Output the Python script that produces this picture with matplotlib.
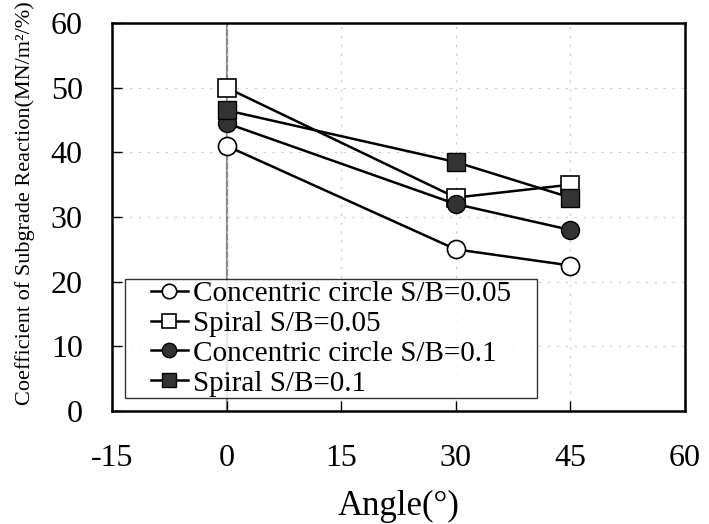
import matplotlib
matplotlib.use("Agg")
import matplotlib.pyplot as plt
from matplotlib.legend_handler import HandlerLine2D

# Values
angles = [0, 30, 45]
concentric_005 = [41, 25, 22.5]
spiral_005 = [50, 33, 35]
concentric_01 = [44.5, 32, 28]
spiral_01 = [46.5, 38.5, 33]

labels = ["Concentric circle S/B=0.05", "Spiral S/B=0.05",
          "Concentric circle S/B=0.1", "Spiral S/B=0.1"]
x_ticks = [-15, 0, 15, 30, 45, 60]
y_ticks = [0, 10, 20, 30, 40, 50, 60]


# legend handle drawn only in the right part of its box (indent from frame)
class IndentedHandler(HandlerLine2D):
    def create_artists(self, legend, orig_handle, xdescent, ydescent,
                       width, height, fontsize, trans):
        shift = width * 0.4
        return super().create_artists(legend, orig_handle, xdescent - shift,
                                      ydescent, width - shift, height,
                                      fontsize, trans)


plt.rcParams['font.family'] = ['Liberation Serif', 'DejaVu Serif']
plt.rcParams['axes.unicode_minus'] = False

fig = plt.figure(figsize=(7.09, 5.24), dpi=100)
ax = fig.add_axes([112 / 709, 1 - 411 / 524, 573 / 709, 388 / 524])

# faint dotted grid and the vertical line at 0 deg
ax.grid(True, color='#c8c8c8', linestyle=(0, (2, 6)), linewidth=0.8, zorder=0)
ax.axvline(0, color='#8a8a8a', linewidth=1.6, zorder=1)

dark = '#333333'
ms = 13
lines = []
lines += ax.plot(angles, concentric_005, '-o', color='black', lw=1.8, ms=ms,
                 mfc='white', mec='black', mew=1.2, label=labels[0], zorder=3)
lines += ax.plot(angles, spiral_005, '-s', color='black', lw=1.8, ms=ms,
                 mfc='white', mec='black', mew=1.2, label=labels[1], zorder=3)
lines += ax.plot(angles, concentric_01, '-o', color='black', lw=1.8, ms=ms,
                 mfc=dark, mec='black', mew=1.0, label=labels[2], zorder=4)
lines += ax.plot(angles, spiral_01, '-s', color='black', lw=1.8, ms=ms,
                 mfc=dark, mec='black', mew=1.0, label=labels[3], zorder=4)

ax.set_xlim(-15, 60)
ax.set_ylim(0, 60)
ax.set_xticks(x_ticks)
ax.set_yticks(y_ticks)
ax.tick_params(direction='in', length=7, width=1, labelsize=23)
ax.tick_params(axis='x', pad=24)
ax.tick_params(axis='y', pad=21)
for s in ax.spines.values():
    s.set_linewidth(1.8)

ax.set_xlabel("Angle(\u00b0)", fontsize=25, labelpad=12)
ax.set_ylabel("Coefficient of Subgrade Reaction(MN/m\u00b2/%)", fontsize=16)
ax.yaxis.set_label_coords(-0.134, 0.536)

leg = ax.legend(handles=lines, loc='lower left',
                bbox_to_anchor=(0.0227, 0.0335, 0.719, 0.3), mode='expand',
                fontsize=21, frameon=True, fancybox=False, edgecolor='black',
                handlelength=2.1, handletextpad=0.17, labelspacing=0.12,
                borderpad=0.05, borderaxespad=0, markerscale=0.8,
                handler_map={l: IndentedHandler() for l in lines})
leg.get_frame().set_linewidth(1.0)
leg.set_zorder(5)

fig.savefig("out.png", dpi=100)
